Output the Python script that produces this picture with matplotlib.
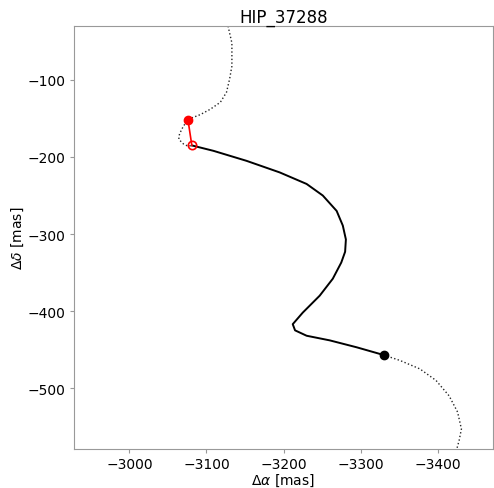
import numpy as np
import matplotlib
matplotlib.use("Agg")
import matplotlib.pyplot as plt

# orbit model before the observing window (dotted)
pre_ra = [-3128, -3130, -3133, -3133, -3133, -3130, -3126, -3118, -3105, -3092,
          -3079, -3076, -3070, -3065, -3064, -3070, -3076, -3081]
pre_dec = [-30, -39, -52, -65, -82, -99, -116, -129, -138, -145,
           -150, -152, -160, -170, -177, -183, -186, -185]

# orbit model inside the observing window (solid)
fit_ra = [-3081, -3109, -3152, -3195, -3230, -3251, -3269, -3277, -3281, -3280,
          -3275, -3264, -3247, -3225, -3212, -3215, -3230, -3260, -3295, -3330]
fit_dec = [-185, -192, -205, -220, -235, -250, -270, -289, -307, -323,
           -337, -358, -380, -402, -417, -425, -432, -438, -447, -457]

# orbit model after the observing window (dotted)
post_ra = [-3330, -3351, -3377, -3398, -3415, -3426, -3431, -3428, -3425]
post_dec = [-457, -464, -475, -490, -510, -531, -553, -568, -579]

# observed / predicted epoch positions
obs_ra, obs_dec = -3076, -152
pred_ra, pred_dec = -3081, -185
end_ra, end_dec = -3330, -457

fig = plt.figure(figsize=(4.94, 4.89), dpi=100)
ax = fig.add_axes([74 / 494, 39 / 489, 419 / 494, 423 / 489])

ax.plot(pre_ra, pre_dec, ls=':', color='0.15', lw=1)
ax.plot(post_ra, post_dec, ls=':', color='0.15', lw=1)
ax.plot(fit_ra, fit_dec, color='k', lw=1.4, solid_joinstyle='round')

ax.plot([obs_ra, pred_ra], [obs_dec, pred_dec], color='red', lw=1.2)
ax.plot(obs_ra, obs_dec, 'o', color='red', ms=6)
ax.plot(pred_ra, pred_dec, 'o', mfc='none', mec='red', mew=1.2, ms=6)
ax.plot(end_ra, end_dec, 'o', color='k', ms=6)

ax.set_xlim(-2928, -3472)
ax.set_ylim(-579, -30)
ax.set_xticks([-3000, -3100, -3200, -3300, -3400])
ax.set_yticks([-100, -200, -300, -400, -500])

ax.set_xlabel(r'$\Delta\alpha$ [mas]', fontsize=10, labelpad=0)
ax.set_ylabel(r'$\Delta\delta$ [mas]', fontsize=10, labelpad=1)
ax.set_title('HIP_37288', fontsize=12, pad=3)

for s in ax.spines.values():
    s.set_color('0.6')
ax.tick_params(labelsize=10, color='0.6', length=3, pad=3)

fig.savefig('out.png', dpi=100)
